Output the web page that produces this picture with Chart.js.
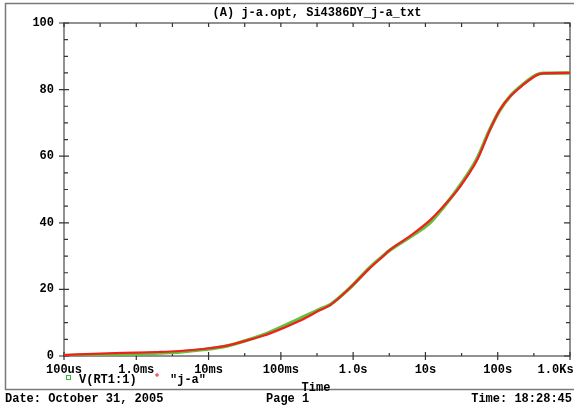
<!DOCTYPE html>
<html>
<head>
<meta charset="utf-8">
<script src="https://cdn.jsdelivr.net/npm/chart.js@4.4.0/dist/chart.umd.min.js"></script>
<style>
  html, body { margin: 0; padding: 0; background: #fff; }
  #wrap { width: 574px; height: 405px; }
</style>
</head>
<body>
<div id="wrap"><canvas id="traceChart"></canvas></div>
<script>
// time in seconds
const timeValues = [1e-4, 4e-4, 1e-3, 2e-3, 4e-3, 8.4e-3, 0.018, 0.037, 0.051, 0.071, 0.18, 0.35, 0.48, 0.9, 1.7, 2.6, 3.2, 6.1, 11.6, 17.5, 30, 52, 78, 107, 148, 224, 349, 423, 1000];
const vRt1Values = [0.2, 0.4, 0.6, 0.9, 1.2, 1.9, 3.0, 5.0, 6.0, 7.2, 11.2, 14.1, 15.4, 20.4, 26.6, 30.1, 31.7, 35.7, 40.0, 44.5, 51.2, 59.4, 68.1, 73.8, 78.0, 81.6, 84.5, 84.9, 85.0];
const jaValues = [0.3, 0.8, 1.0, 1.2, 1.5, 2.1, 3.1, 4.9, 5.8, 6.8, 10.5, 13.8, 15.3, 20.4, 26.4, 30.0, 31.8, 36.0, 40.8, 44.8, 50.8, 58.9, 67.9, 73.9, 77.9, 81.4, 84.4, 84.9, 85.0];

const xTickValues = [1e-4, 1e-3, 1e-2, 1e-1, 1, 10, 100, 1000];
const xTickLabels = ['100us', '1.0ms', '10ms', '100ms', '1.0s', '10s', '100s', '1.0Ks    '];
const yTickLabels = [0, 20, 40, 60, 80, 100];

const FONT = 'bold 12px "Liberation Mono", "DejaVu Sans Mono", monospace';
const AXIS_GRAY = '#6e6e6e';

const probePlugin = {
    id: 'probeFrame',
    beforeDatasetsDraw(chart) {
        const { ctx, chartArea: a, scales: { x, y } } = chart;
        ctx.save();
        // outer frame
        ctx.strokeStyle = '#7a7a7a';
        ctx.lineWidth = 1.5;
        ctx.strokeRect(5.5, 3.5, 570, 386);
        // plot box
        ctx.strokeStyle = AXIS_GRAY;
        ctx.lineWidth = 1.5;
        ctx.strokeRect(a.left, a.top, a.right - a.left, a.bottom - a.top);

        ctx.lineWidth = 1.2;
        ctx.strokeStyle = '#333';
        // x ticks, major on decades, minor at half decade
        for (let k = 0; k < xTickValues.length; k++) {
            const px = x.getPixelForValue(xTickValues[k]);
            ctx.beginPath();
            ctx.moveTo(px, a.bottom + 4); ctx.lineTo(px, a.bottom - 4);
            ctx.moveTo(px, a.top); ctx.lineTo(px, a.top + 4);
            ctx.stroke();
            if (k < xTickValues.length - 1) {
                const pm = x.getPixelForValue(xTickValues[k] * Math.sqrt(10));
                ctx.beginPath();
                ctx.moveTo(pm, a.bottom); ctx.lineTo(pm, a.bottom - 3);
                ctx.moveTo(pm, a.top); ctx.lineTo(pm, a.top + 4);
                ctx.stroke();
            }
        }
        // y ticks every 5, major every 20
        for (let v = 0; v <= 100; v += 5) {
            const py = y.getPixelForValue(v);
            const major = v % 20 === 0;
            ctx.beginPath();
            if (major) {
                ctx.moveTo(a.left - 5, py); ctx.lineTo(a.left + 5, py);
                ctx.moveTo(a.right, py); ctx.lineTo(a.right - 6, py);
            } else {
                ctx.moveTo(a.left, py); ctx.lineTo(a.left + 4, py);
                ctx.moveTo(a.right, py); ctx.lineTo(a.right - 4, py);
            }
            ctx.stroke();
        }
        ctx.restore();
    },
    afterDraw(chart) {
        const { ctx, chartArea: a } = chart;
        const mid = (a.left + a.right) / 2;
        ctx.save();
        ctx.font = FONT;
        ctx.fillStyle = '#000';
        ctx.textBaseline = 'middle';
        ctx.textAlign = 'center';
        ctx.fillText('(A) j-a.opt, Si4386DY_j-a_txt', mid, 13);

        // legend
        ctx.strokeStyle = '#3cb83c';
        ctx.lineWidth = 1;
        ctx.strokeRect(66.5, 375.5, 4, 4);
        ctx.textAlign = 'left';
        ctx.fillText('V(RT1:1)', 79, 380);
        ctx.strokeStyle = '#ff2020';
        ctx.beginPath();
        ctx.moveTo(157, 373); ctx.lineTo(157, 377);
        ctx.moveTo(155, 375); ctx.lineTo(159, 375);
        ctx.stroke();
        ctx.fillText('"j-a"', 170, 380);

        ctx.textAlign = 'center';
        ctx.fillText('Time', 316, 388);

        // footer
        ctx.textAlign = 'left';
        ctx.fillText('Date: October 31, 2005', 5, 399);
        ctx.fillText('Page 1', 266, 399);
        ctx.textAlign = 'right';
        ctx.fillText('Time: 18:28:45', 572, 399);
        ctx.restore();
    }
};

const ctx = document.getElementById('traceChart').getContext('2d');
new Chart(ctx, {
    type: 'line',
    data: {
        labels: timeValues,
        datasets: [
            {
                label: '"j-a"',
                data: timeValues.map((t, i) => ({ x: t, y: jaValues[i] })),
                borderColor: '#f02020',
                borderWidth: 2.2,
                pointRadius: 0,
                cubicInterpolationMode: 'monotone',
                fill: false
            },
            {
                label: 'V(RT1:1)',
                data: timeValues.map((t, i) => ({ x: t, y: vRt1Values[i] })),
                borderColor: '#62c23a',
                borderWidth: 3.4,
                pointRadius: 0,
                cubicInterpolationMode: 'monotone',
                fill: false
            }
        ]
    },
    options: {
        responsive: true,
        maintainAspectRatio: false,
        animation: false,
        layout: { padding: { top: 23, right: 4, left: 0, bottom: 0 } },
        plugins: {
            legend: { display: false },
            title: { display: false },
            tooltip: { enabled: false }
        },
        scales: {
            x: {
                type: 'logarithmic',
                min: 1e-4,
                max: 1000,
                grid: { display: false, drawTicks: false },
                border: { display: false },
                afterBuildTicks: (scale) => {
                    scale.ticks = xTickValues.map(v => ({ value: v }));
                },
                afterFit: (scale) => {
                    scale.height = 49;
                    scale.paddingLeft = 0;
                    scale.paddingRight = 0;
                },
                ticks: {
                    autoSkip: false,
                    maxRotation: 0,
                    padding: 7,
                    color: '#000',
                    font: { family: '"Liberation Mono", monospace', size: 12, weight: 'bold' },
                    callback: (value) => {
                        const i = xTickValues.findIndex(v => Math.abs(Math.log10(v) - Math.log10(value)) < 1e-6);
                        return i >= 0 ? xTickLabels[i] : '';
                    }
                }
            },
            y: {
                min: 0,
                max: 100,
                grid: { display: false, drawTicks: false },
                border: { display: false },
                afterFit: (scale) => {
                    scale.width = 64;
                },
                afterBuildTicks: (scale) => {
                    scale.ticks = yTickLabels.map(v => ({ value: v }));
                },
                ticks: {
                    padding: 10,
                    color: '#000',
                    font: { family: '"Liberation Mono", monospace', size: 12, weight: 'bold' }
                }
            }
        }
    },
    plugins: [probePlugin]
});
</script>
</body>
</html>
